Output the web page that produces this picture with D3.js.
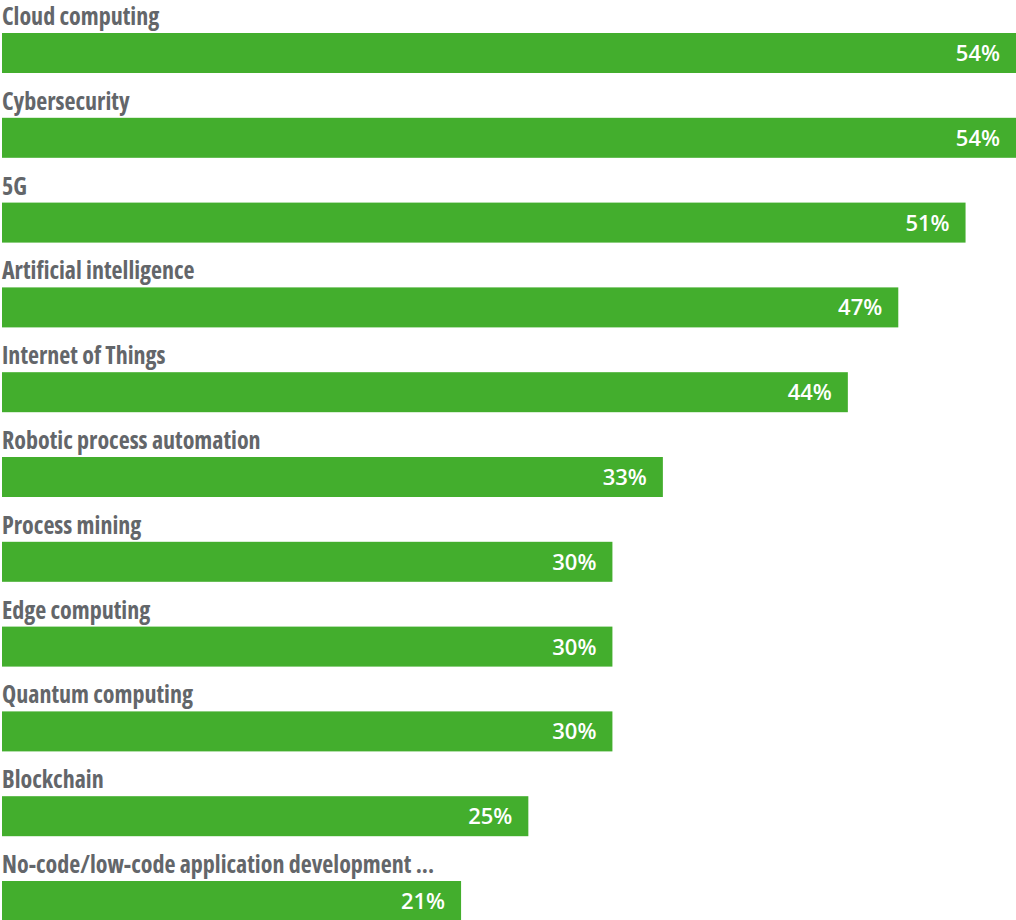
<!DOCTYPE html>
<html lang="en">
  <head>
    <meta charset="UTF-8" />
    <script src="https://d3js.org/d3.v7.min.js"></script>
    <title>Technologies</title>
    <style>
      body {
        margin: 0;
        background: #fff;
      }
      .cat-label {
        font-family: "Open Sans", "Liberation Sans Narrow", sans-serif;
        font-stretch: 75%;
        font-weight: 700;
        font-size: 24px;
        fill: #63666a;
      }
      .val-label {
        font-family: "Open Sans", sans-serif;
        font-weight: 600;
        font-size: 22px;
        fill: #fff;
      }
    </style>
  </head>
  <body>
    <svg id="chart" width="1016" height="920"></svg>
    <script>
      const width = 1016;
      const height = 920;

      const categories = [
        "Cloud computing",
        "Cybersecurity",
        "5G",
        "Artificial intelligence",
        "Internet of Things",
        "Robotic process automation",
        "Process mining",
        "Edge computing",
        "Quantum computing",
        "Blockchain",
        "No-code/low-code application development ..."
      ];
      const values = [54, 54, 51, 47, 44, 33, 30, 30, 30, 25, 21];
      const valueLabels = values.map(v => v + "%");

      const svg = d3.select("#chart");

      // bars don't start at zero in the original, domain offset matches widths
      let x = d3.scaleLinear().domain([-6.3, 54]).range([2, width]);

      let y = d3
        .scaleBand()
        .domain(categories)
        .range([33, 33 + 84.8 * 11])
        .paddingInner(0)
        .paddingOuter(0);

      const barH = 40;

      const g = svg.append("g");

      const rows = g
        .selectAll(".row")
        .data(categories)
        .join("g")
        .attr("class", "row")
        .attr("transform", d => `translate(0,${y(d)})`);

      rows
        .append("rect")
        .attr("x", x(-6.3))
        .attr("y", 0)
        .attr("height", barH)
        .attr("width", (d, i) => x(values[i]) - x(-6.3))
        .attr("fill", "#43ae2d");

      rows
        .append("text")
        .attr("class", "cat-label")
        .attr("x", 2)
        .attr("y", -8)
        .text(d => d);

      rows
        .append("text")
        .attr("class", "val-label")
        .attr("x", (d, i) => x(values[i]) - 16)
        .attr("y", barH / 2 + 8)
        .attr("text-anchor", "end")
        .text((d, i) => valueLabels[i]);
    </script>
  </body>
</html>
